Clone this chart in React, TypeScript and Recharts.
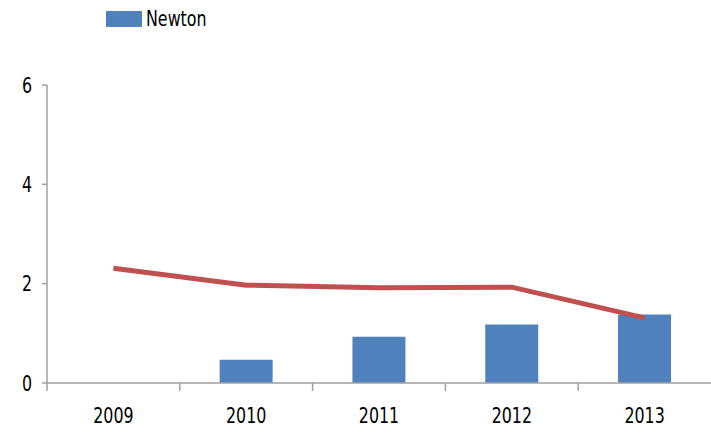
import React from "react";
import { ComposedChart, Bar, Line, XAxis, YAxis } from "recharts";

const categories = ["2009", "2010", "2011", "2012", "2013"];
const newtonValues: (number | null)[] = [null, 0.47, 0.93, 1.18, 1.38];
const lineValues = [2.31, 1.97, 1.92, 1.93, 1.31];
const yTicks = [0, 2, 4, 6];

const data = categories.map((c, i) => ({
  year: c,
  newton: newtonValues[i],
  trend: lineValues[i],
}));

const FONT = "'DejaVu Sans Condensed', 'DejaVu Sans', sans-serif";
const AXIS = "#a0a0a0";
const BAND = 664 / 5;
const SX = 0.84;

const XTick = (props: any) => {
  const { x, y, payload } = props;
  return (
    <g>
      <line x1={x - BAND / 2} x2={x - BAND / 2} y1={y} y2={y + 8} stroke={AXIS} strokeWidth={1.5} />
      <text
        transform={`translate(${x},${y + 40}) scale(${SX},1)`}
        x={0}
        y={0}
        textAnchor="middle"
        fontFamily={FONT}
        fontSize={21}
        fill="#000"
      >
        {payload.value}
      </text>
    </g>
  );
};

const YTick = (props: any) => {
  const { x, y, payload } = props;
  return (
    <text
      transform={`translate(${x},${y}) scale(${SX},1)`}
      x={0}
      y={0}
      dy="0.36em"
      textAnchor="end"
      fontFamily={FONT}
      fontSize={21}
      fill="#000"
    >
      {payload.value}
    </text>
  );
};

export default function App() {
  return (
    <div style={{ position: "absolute", left: 0, top: 0, width: 711, height: 433 }}>
      <div
        style={{
          position: "absolute",
          left: 106,
          top: 7,
          display: "flex",
          alignItems: "center",
          fontFamily: FONT,
          fontSize: 21,
          color: "#000",
        }}
      >
        <div style={{ width: 36, height: 16, background: "#4F81BD", marginRight: 4 }} />
        <span style={{ display: "inline-block", transform: `scaleX(${SX})`, transformOrigin: "left center" }}>
          Newton
        </span>
      </div>
      <ComposedChart width={711} height={433} data={data} margin={{ top: 85, right: 0, left: 0, bottom: 0 }} barCategoryGap="30%">
        <XAxis
          dataKey="year"
          height={50}
          tickLine={false}
          tickSize={0}
          tickMargin={0}
          axisLine={{ stroke: AXIS, strokeWidth: 1.5 }}
          tick={<XTick />}
          interval={0}
        />
        <YAxis
          width={47}
          domain={[0, 6]}
          ticks={yTicks}
          tickSize={5}
          tickMargin={10}
          axisLine={{ stroke: AXIS, strokeWidth: 1.5 }}
          tickLine={{ stroke: AXIS, strokeWidth: 1.5 }}
          tick={<YTick />}
        />
        <Bar dataKey="newton" fill="#4F81BD" isAnimationActive={false} />
        <Line
          dataKey="trend"
          stroke="#C0504D"
          strokeWidth={5}
          dot={false}
          legendType="none"
          isAnimationActive={false}
        />
      </ComposedChart>
    </div>
  );
}
